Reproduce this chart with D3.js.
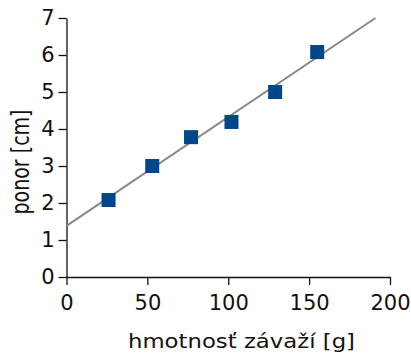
<!DOCTYPE html>
<html><head><meta charset="utf-8">
<script src="https://cdn.jsdelivr.net/npm/d3@7"></script>
<style>
body{margin:0;background:#fff;}
svg{display:block;}
text{font-family:"DejaVu Sans",sans-serif;fill:#111;}
</style></head>
<body>
<script>
const mass = [26, 53, 77, 102, 129, 155];
const depth = [2.08, 3.0, 3.78, 4.19, 5.0, 6.08];
const fitX = [0, 191];
const fitY = [1.38, 7.0];
const xTicks = [0, 50, 100, 150, 200];
const yTicks = [0, 1, 2, 3, 4, 5, 6, 7];
const xTitle = "hmotnosť závaží [g]";
const yTitle = "ponor [cm]";

const W = 411, H = 354;
const svg = d3.select("body").append("svg").attr("width", W).attr("height", H);
const x = d3.scaleLinear().domain([0, 200]).range([66.5, 390]);
const y = d3.scaleLinear().domain([0, 7]).range([277, 18]);

const gx = svg.append("g").attr("transform", `translate(0,${y(0)})`)
  .call(d3.axisBottom(x).tickValues(xTicks).tickFormat(d3.format("d")).tickSize(8).tickSizeOuter(0).tickPadding(10));
const gy = svg.append("g").attr("transform", `translate(${x(0)},0)`)
  .call(d3.axisLeft(y).tickValues(yTicks).tickFormat(d3.format("d")).tickSize(8).tickSizeOuter(0).tickPadding(4));
[gx, gy].forEach(g => {
  g.selectAll("path.domain").attr("stroke", "#111").attr("stroke-width", 1.3);
  g.selectAll(".tick line").attr("stroke", "#111").attr("stroke-width", 1.3);
  g.selectAll(".tick text").attr("font-family", "DejaVu Sans").attr("font-size", 21).attr("fill", "#111");
});

const line = d3.line().x(d => x(d[0])).y(d => y(d[1]));
svg.append("path").datum(d3.zip(fitX, fitY)).attr("d", line)
  .attr("fill", "none").attr("stroke", "#888").attr("stroke-width", 2);

const s = 14;
svg.selectAll("rect.pt").data(d3.zip(mass, depth)).join("rect").attr("class", "pt")
  .attr("x", d => x(d[0]) - s / 2).attr("y", d => y(d[1]) - s / 2)
  .attr("width", s).attr("height", s).attr("fill", "#00468b");

svg.append("text").attr("x", 241.5).attr("y", 348).attr("text-anchor", "middle")
  .attr("font-size", 19).attr("textLength", 227).attr("lengthAdjust", "spacingAndGlyphs")
  .text(xTitle);
svg.append("text").attr("transform", "translate(29,162) scale(1.3,1) rotate(-90)").attr("text-anchor", "middle")
  .attr("font-size", 19).attr("textLength", 105).attr("lengthAdjust", "spacingAndGlyphs")
  .text(yTitle);
</script>
</body></html>
